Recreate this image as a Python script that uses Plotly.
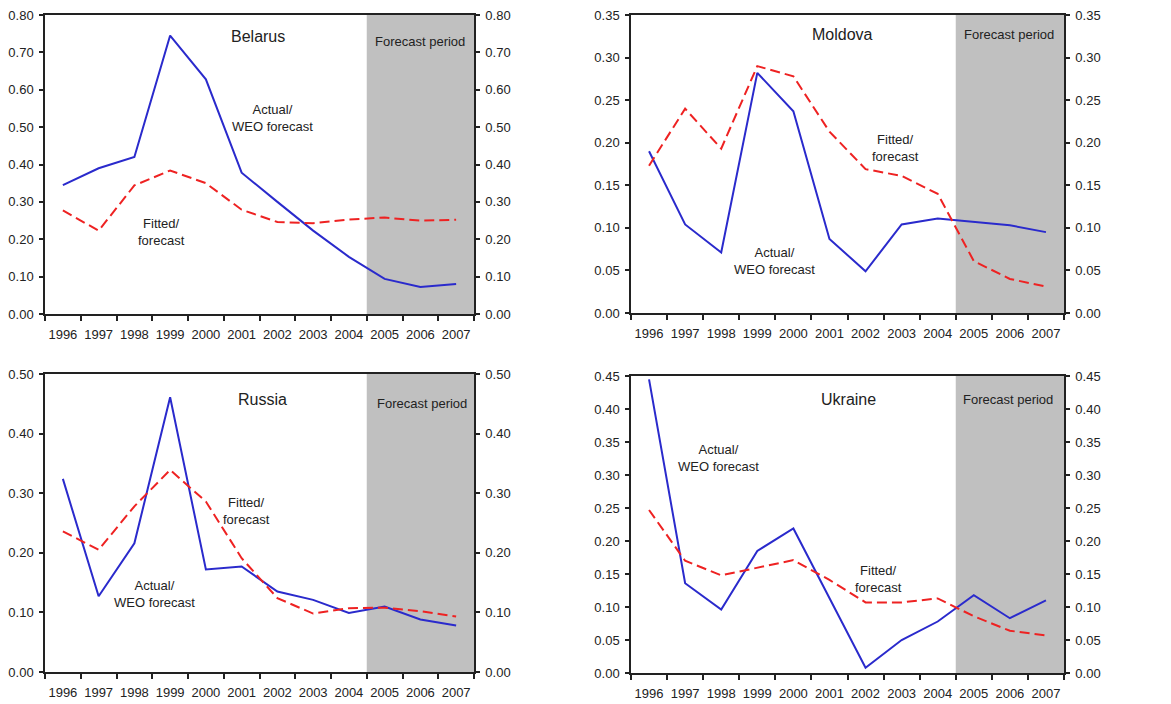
import plotly.graph_objects as go

years = ["1996", "1997", "1998", "1999", "2000", "2001", "2002", "2003", "2004", "2005", "2006", "2007"]

belarus_actual = [0.345, 0.39, 0.42, 0.745, 0.628, 0.378, 0.30, 0.223, 0.153, 0.094, 0.072, 0.080]
belarus_fitted = [0.277, 0.223, 0.344, 0.384, 0.350, 0.279, 0.246, 0.243, 0.253, 0.258, 0.250, 0.252]

moldova_actual = [0.190, 0.104, 0.071, 0.282, 0.237, 0.087, 0.049, 0.104, 0.111, 0.107, 0.103, 0.095]
moldova_fitted = [0.173, 0.240, 0.193, 0.290, 0.278, 0.213, 0.169, 0.161, 0.140, 0.061, 0.040, 0.031]

russia_actual = [0.324, 0.127, 0.216, 0.461, 0.172, 0.177, 0.135, 0.121, 0.099, 0.110, 0.088, 0.078]
russia_fitted = [0.236, 0.205, 0.278, 0.339, 0.286, 0.191, 0.124, 0.098, 0.107, 0.108, 0.102, 0.093]

ukraine_actual = [0.445, 0.136, 0.096, 0.185, 0.219, 0.113, 0.008, 0.050, 0.078, 0.118, 0.083, 0.110]
ukraine_fitted = [0.247, 0.170, 0.148, 0.160, 0.171, 0.141, 0.107, 0.107, 0.113, 0.086, 0.064, 0.057]

countries = ["Belarus", "Moldova", "Russia", "Ukraine"]
actuals = [belarus_actual, moldova_actual, russia_actual, ukraine_actual]
fitteds = [belarus_fitted, moldova_fitted, russia_fitted, ukraine_fitted]
y_max = [0.80, 0.35, 0.50, 0.45]
y_step = [0.10, 0.05, 0.10, 0.05]

W, H = 1171, 704
OFF = 8  # page body margin
FONT = "Liberation Sans, Arial, sans-serif"
TXT = "#222222"
BLUE = "#2a2acc"
RED = "#ee2222"
GREY = "#c0c0c0"
AX = "#222222"

# plot-area boxes in screen pixels: (left, right, top, bottom)
boxes = [(45, 474, 15, 314), (631, 1064, 15, 313), (45, 474, 374, 672), (631, 1064, 376, 673)]

# label centres in screen pixels
title_pos = [(258, 37), (842, 34), (262, 400), (848, 400)]
fc_pos = [(420, 41), (1009, 35), (422, 403), (1008, 399)]
actual_pos = [(272, 118), (774, 261), (154, 594), (718, 458)]
fitted_pos = [(161, 232), (895, 148), (247, 511), (878, 579)]

def px(x):
    return (x - OFF) / W

def py(y):
    return 1 - (y - OFF) / H

fig = go.Figure()
layout = {}
shapes = []
annotations = []

def label(text, pos, size):
    return dict(text=text, x=px(pos[0]), y=py(pos[1]), xref="paper", yref="paper",
                xanchor="center", yanchor="middle", showarrow=False,
                font=dict(family=FONT, size=size, color=TXT))

for i in range(4):
    n = i + 1
    r = i + 5
    xa = "x" if n == 1 else f"x{n}"
    ya = "y" if n == 1 else f"y{n}"
    yr = f"y{r}"
    l, rgt, t, b = boxes[i]

    fig.add_trace(go.Scatter(x=years, y=actuals[i], xaxis=xa, yaxis=ya, mode="lines",
                             line=dict(color=BLUE, width=2), showlegend=False, hoverinfo="skip"))
    fig.add_trace(go.Scatter(x=years, y=fitteds[i], xaxis=xa, yaxis=yr, mode="lines",
                             line=dict(color=RED, width=2, dash="10px,5px"), showlegend=False,
                             hoverinfo="skip"))

    ticks = [round(k * y_step[i], 2) for k in range(int(round(y_max[i] / y_step[i])) + 1)]
    common_y = dict(range=[0, y_max[i]], tickvals=ticks, ticktext=[f"{v:.2f}" for v in ticks],
                    showgrid=False, zeroline=False, showline=True, linecolor=AX, linewidth=1.5,
                    ticks="outside", ticklen=4, tickwidth=1.5, tickcolor=AX,
                    ticklabelstandoff=3, ticklabeloverflow="allow",
                    tickfont=dict(family=FONT, size=13, color=TXT), automargin=False,
                    domain=[py(b), py(t)])
    layout["xaxis" if n == 1 else f"xaxis{n}"] = dict(
        domain=[px(l), px(rgt)], anchor=ya, type="category", categoryorder="array",
        categoryarray=years, range=[-0.5, 11.5], tickson="boundaries", ticks="outside",
        ticklen=5, tickwidth=1.5, tickcolor=AX, showline=True, linecolor=AX, linewidth=1.5,
        mirror=True, showgrid=False, zeroline=False, tickangle=0, ticklabelstandoff=8,
        ticklabeloverflow="allow",
        tickfont=dict(family=FONT, size=13, color=TXT), automargin=False)
    layout["yaxis" if n == 1 else f"yaxis{n}"] = dict(anchor=xa, side="left", **common_y)
    layout[f"yaxis{r}"] = dict(anchor=xa, overlaying=ya, side="right", **common_y)

    shapes.append(dict(type="rect", xref=xa, yref=f"{ya} domain", x0=8.5, x1=11.5, y0=0, y1=1,
                       fillcolor=GREY, line=dict(width=0), layer="below"))

    annotations.append(label(countries[i], title_pos[i], 16))
    annotations.append(label("Forecast period", fc_pos[i], 13))
    annotations.append(label("Actual/<br>WEO forecast", actual_pos[i], 13))
    annotations.append(label("Fitted/<br>forecast", fitted_pos[i], 13))

fig.update_layout(width=W, height=H, margin=dict(l=0, r=0, t=0, b=0),
                  paper_bgcolor="white", plot_bgcolor="white",
                  shapes=shapes, annotations=annotations, **layout)

fig.write_html("out.html")
